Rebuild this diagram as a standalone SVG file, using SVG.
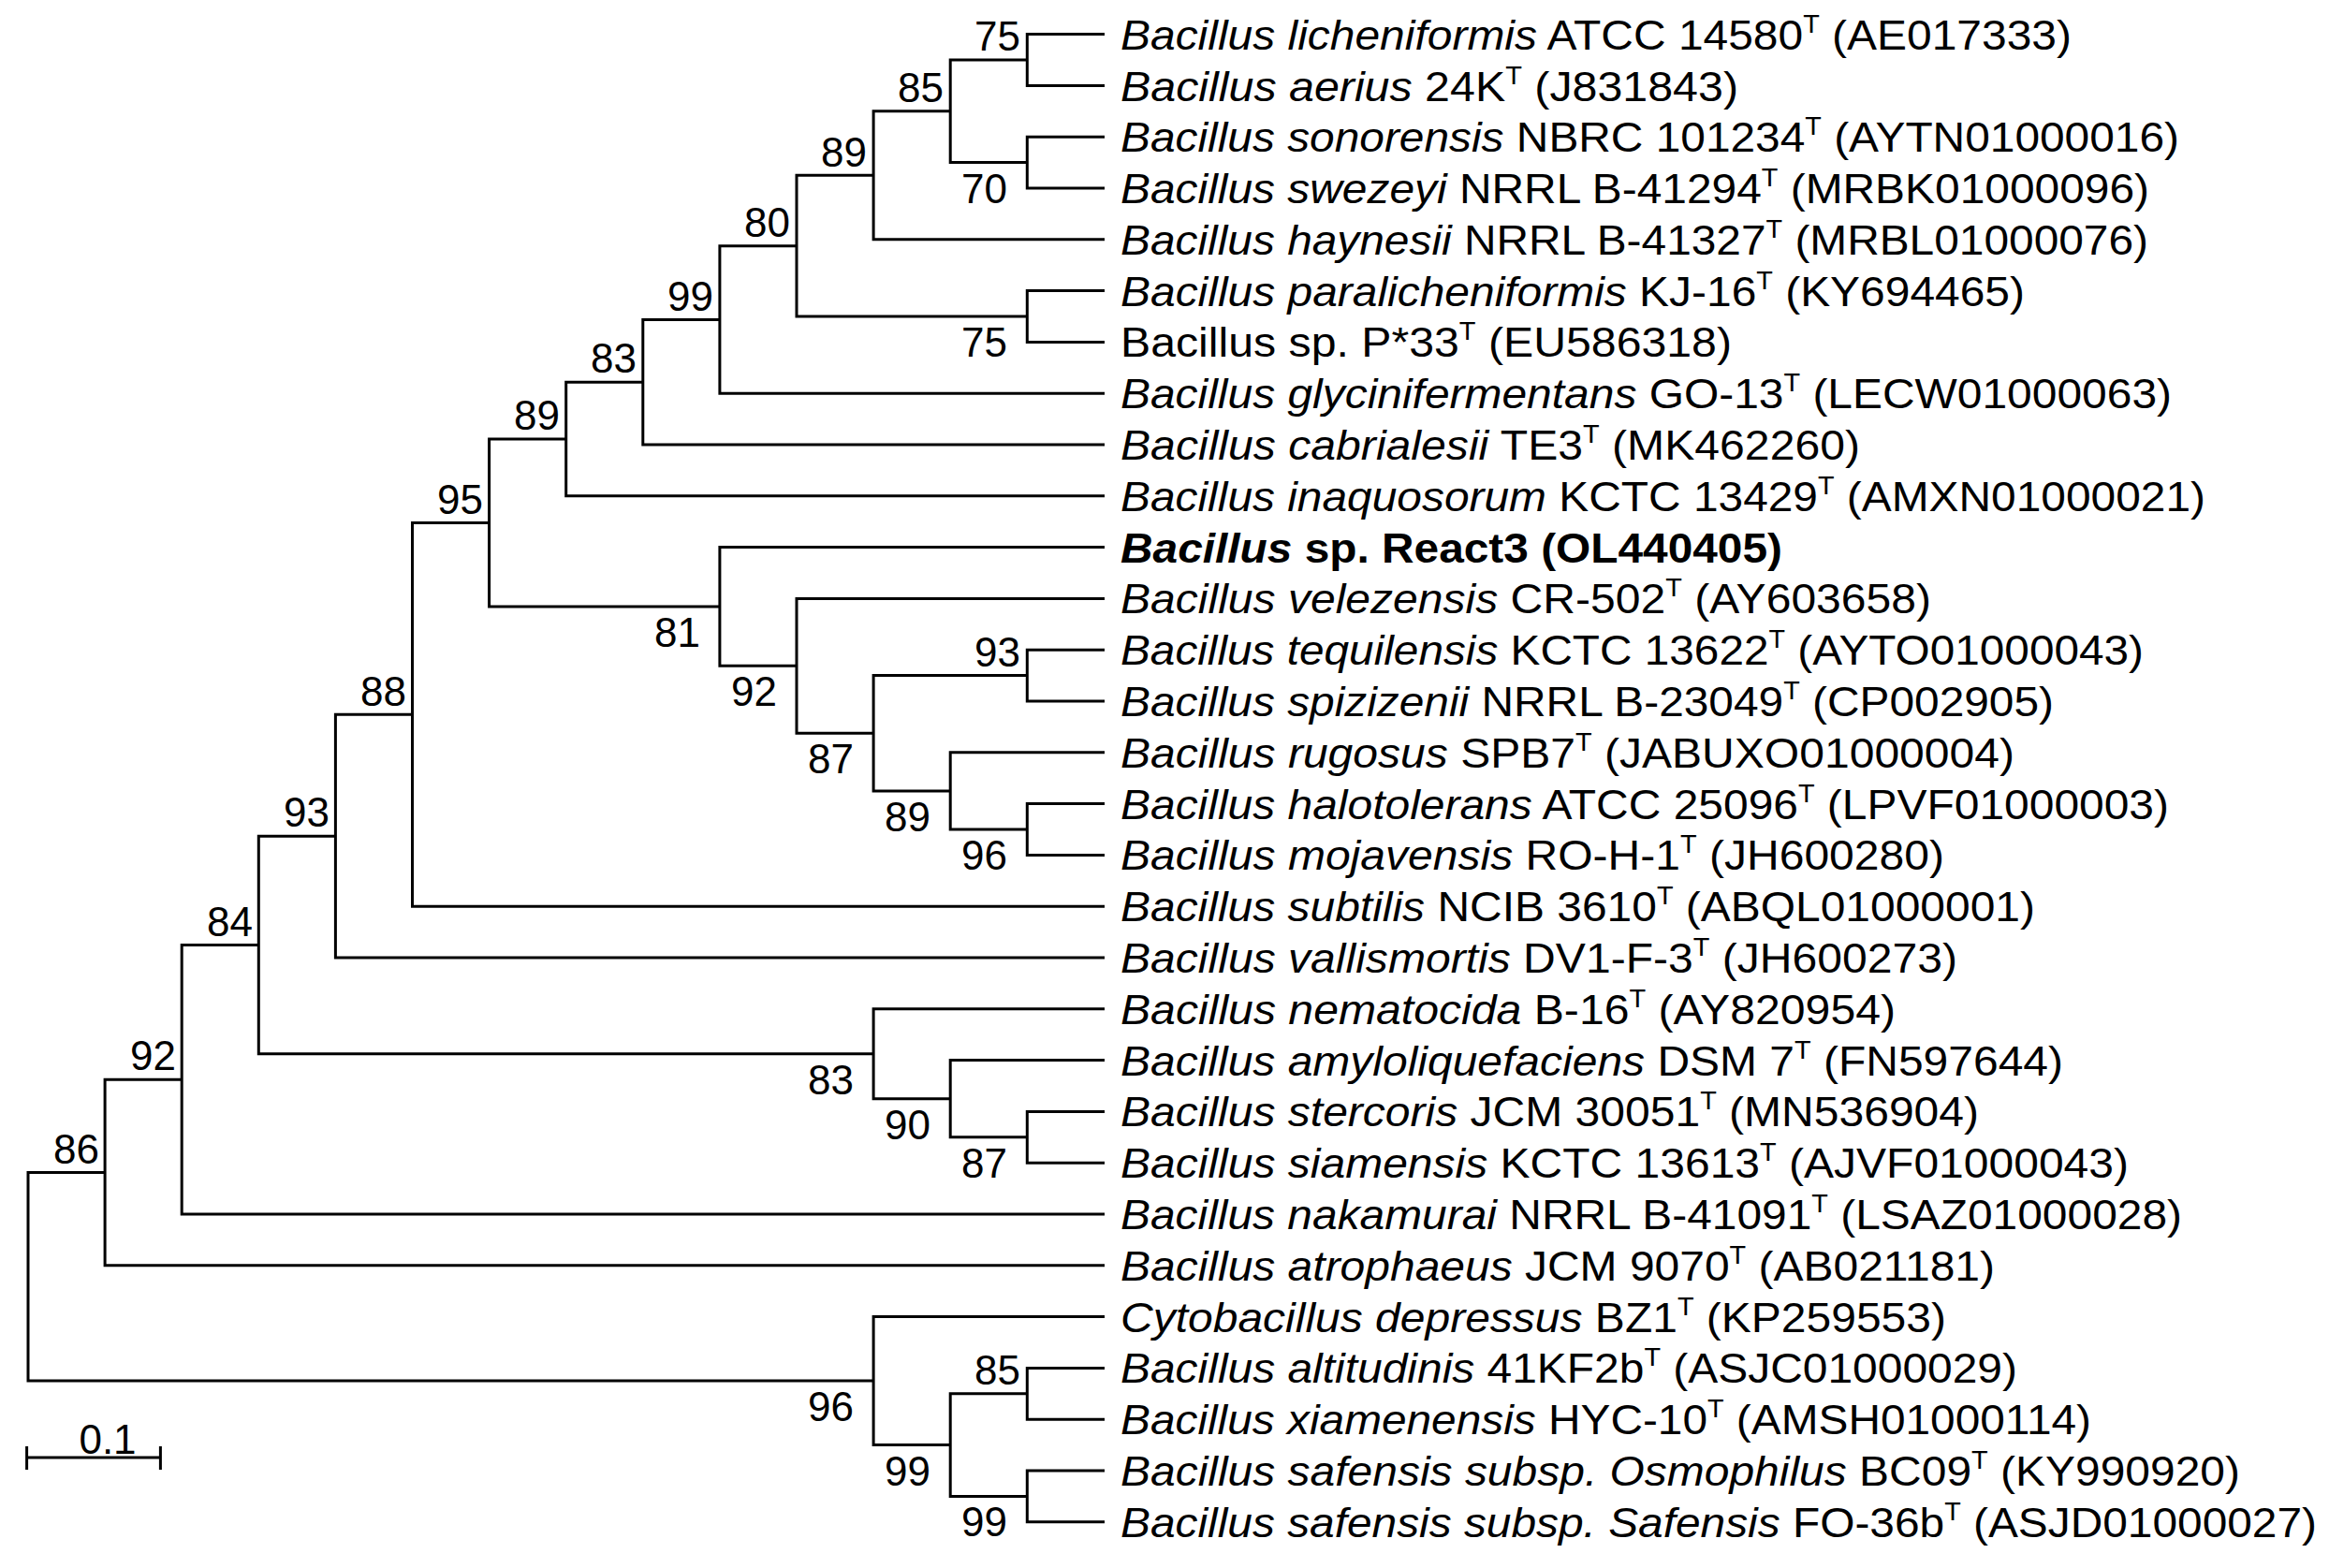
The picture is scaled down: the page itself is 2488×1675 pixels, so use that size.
<svg xmlns="http://www.w3.org/2000/svg" width="2488" height="1675" viewBox="0 0 2488 1675">
<style>
.br{fill:none;stroke:#000;stroke-width:3}
text{font-family:"Liberation Sans",Arial,sans-serif;fill:#000}
.tx{font-size:45px}
.bs{font-size:44px;text-anchor:end}
.i{font-style:italic}
.s{font-size:27px}
</style>
<rect width="2488" height="1675" fill="#fff"/>
<g id="connectors">
<path class="br" d="M112.1,1252.5H30V1475.1H933.1"/>
<path class="br" d="M194.2,1153.2H112.1V1351.8H1180"/>
<path class="br" d="M276.3,1009.5H194.2V1297H1180"/>
<path class="br" d="M358.4,893.2H276.3V1125.75H933.1"/>
<path class="br" d="M440.5,763.3H358.4V1023H1180"/>
<path class="br" d="M522.6,558.5H440.5V968.2H1180"/>
<path class="br" d="M604.7,469H522.6V648H768.9"/>
<path class="br" d="M686.8,408.2H604.7V529.8H1180"/>
<path class="br" d="M768.9,341.4H686.8V475H1180"/>
<path class="br" d="M851,262.65H768.9V420.2H1180"/>
<path class="br" d="M933.1,187.3H851V338H1097.3"/>
<path class="br" d="M1015.2,118.8H933.1V255.8H1180"/>
<path class="br" d="M1097.3,64H1015.2V173.6H1097.3"/>
<path class="br" d="M1180,36.6H1097.3V91.4H1180"/>
<path class="br" d="M1180,146.2H1097.3V201H1180"/>
<path class="br" d="M1180,310.6H1097.3V365.4H1180"/>
<path class="br" d="M1180,584.6H768.9V711.3H851"/>
<path class="br" d="M1180,639.4H851V783.25H933.1"/>
<path class="br" d="M1097.3,721.6H933.1V844.9H1015.2"/>
<path class="br" d="M1180,694.2H1097.3V749H1180"/>
<path class="br" d="M1180,803.8H1015.2V886H1097.3"/>
<path class="br" d="M1180,858.6H1097.3V913.4H1180"/>
<path class="br" d="M1180,1077.8H933.1V1173.7H1015.2"/>
<path class="br" d="M1180,1132.6H1015.2V1214.8H1097.3"/>
<path class="br" d="M1180,1187.4H1097.3V1242.2H1180"/>
<path class="br" d="M1180,1406.6H933.1V1543.6H1015.2"/>
<path class="br" d="M1097.3,1488.8H1015.2V1598.4H1097.3"/>
<path class="br" d="M1180,1461.4H1097.3V1516.2H1180"/>
<path class="br" d="M1180,1571H1097.3V1625.8H1180"/>
</g>
<g id="bootstrap">
<text class="bs" x="1090" y="54">75</text>
<text class="bs" x="1008" y="109">85</text>
<text class="bs" x="1076" y="217">70</text>
<text class="bs" x="926" y="178">89</text>
<text class="bs" x="844" y="253">80</text>
<text class="bs" x="1076" y="381">75</text>
<text class="bs" x="762" y="332">99</text>
<text class="bs" x="680" y="398">83</text>
<text class="bs" x="598" y="459">89</text>
<text class="bs" x="516" y="549">95</text>
<text class="bs" x="748" y="691">81</text>
<text class="bs" x="830" y="754">92</text>
<text class="bs" x="1090" y="712">93</text>
<text class="bs" x="912" y="826">87</text>
<text class="bs" x="994" y="888">89</text>
<text class="bs" x="1076" y="929">96</text>
<text class="bs" x="434" y="754">88</text>
<text class="bs" x="352" y="883">93</text>
<text class="bs" x="270" y="1000">84</text>
<text class="bs" x="912" y="1169">83</text>
<text class="bs" x="994" y="1217">90</text>
<text class="bs" x="1076" y="1258">87</text>
<text class="bs" x="188" y="1143">92</text>
<text class="bs" x="106" y="1243">86</text>
<text class="bs" x="912" y="1518">96</text>
<text class="bs" x="1090" y="1479">85</text>
<text class="bs" x="994" y="1587">99</text>
<text class="bs" x="1076" y="1641">99</text>
</g>
<g id="scale">
<path class="br" d="M28.6,1557H171.4M28.6,1545V1570M171.4,1545V1570"/>
<text class="bs" x="146" y="1553" style="text-anchor:middle" transform="translate(-31,0)">0.1</text>
</g>
<g id="taxa" class="tx">
<text x="1197" y="53" textLength="1016" lengthAdjust="spacingAndGlyphs"><tspan class="i">Bacillus licheniformis</tspan> ATCC 14580<tspan class="s" dy="-18">T</tspan><tspan dy="18"> (AE017333)</tspan></text>
<text x="1197" y="108" textLength="660" lengthAdjust="spacingAndGlyphs"><tspan class="i">Bacillus aerius</tspan> 24K<tspan class="s" dy="-18">T</tspan><tspan dy="18"> (J831843)</tspan></text>
<text x="1197" y="162" textLength="1131" lengthAdjust="spacingAndGlyphs"><tspan class="i">Bacillus sonorensis</tspan> NBRC 101234<tspan class="s" dy="-18">T</tspan><tspan dy="18"> (AYTN01000016)</tspan></text>
<text x="1197" y="217" textLength="1099" lengthAdjust="spacingAndGlyphs"><tspan class="i">Bacillus swezeyi</tspan> NRRL B-41294<tspan class="s" dy="-18">T</tspan><tspan dy="18"> (MRBK01000096)</tspan></text>
<text x="1197" y="272" textLength="1098" lengthAdjust="spacingAndGlyphs"><tspan class="i">Bacillus haynesii</tspan> NRRL B-41327<tspan class="s" dy="-18">T</tspan><tspan dy="18"> (MRBL01000076)</tspan></text>
<text x="1197" y="327" textLength="966" lengthAdjust="spacingAndGlyphs"><tspan class="i">Bacillus paralicheniformis</tspan> KJ-16<tspan class="s" dy="-18">T</tspan><tspan dy="18"> (KY694465)</tspan></text>
<text x="1197" y="381" textLength="653" lengthAdjust="spacingAndGlyphs">Bacillus sp. P*33<tspan class="s" dy="-18">T</tspan><tspan dy="18"> (EU586318)</tspan></text>
<text x="1197" y="436" textLength="1123" lengthAdjust="spacingAndGlyphs"><tspan class="i">Bacillus glycinifermentans</tspan> GO-13<tspan class="s" dy="-18">T</tspan><tspan dy="18"> (LECW01000063)</tspan></text>
<text x="1197" y="491" textLength="790" lengthAdjust="spacingAndGlyphs"><tspan class="i">Bacillus cabrialesii</tspan> TE3<tspan class="s" dy="-18">T</tspan><tspan dy="18"> (MK462260)</tspan></text>
<text x="1197" y="546" textLength="1159" lengthAdjust="spacingAndGlyphs"><tspan class="i">Bacillus inaquosorum</tspan> KCTC 13429<tspan class="s" dy="-18">T</tspan><tspan dy="18"> (AMXN01000021)</tspan></text>
<text x="1197" y="601" textLength="707" lengthAdjust="spacingAndGlyphs" font-weight="bold"><tspan class="i">Bacillus</tspan> sp. React3 (OL440405)</text>
<text x="1197" y="655" textLength="866" lengthAdjust="spacingAndGlyphs"><tspan class="i">Bacillus velezensis</tspan> CR-502<tspan class="s" dy="-18">T</tspan><tspan dy="18"> (AY603658)</tspan></text>
<text x="1197" y="710" textLength="1093" lengthAdjust="spacingAndGlyphs"><tspan class="i">Bacillus tequilensis</tspan> KCTC 13622<tspan class="s" dy="-18">T</tspan><tspan dy="18"> (AYTO01000043)</tspan></text>
<text x="1197" y="765" textLength="997" lengthAdjust="spacingAndGlyphs"><tspan class="i">Bacillus spizizenii</tspan> NRRL B-23049<tspan class="s" dy="-18">T</tspan><tspan dy="18"> (CP002905)</tspan></text>
<text x="1197" y="820" textLength="955" lengthAdjust="spacingAndGlyphs"><tspan class="i">Bacillus rugosus</tspan> SPB7<tspan class="s" dy="-18">T</tspan><tspan dy="18"> (JABUXO01000004)</tspan></text>
<text x="1197" y="875" textLength="1120" lengthAdjust="spacingAndGlyphs"><tspan class="i">Bacillus halotolerans</tspan> ATCC 25096<tspan class="s" dy="-18">T</tspan><tspan dy="18"> (LPVF01000003)</tspan></text>
<text x="1197" y="929" textLength="880" lengthAdjust="spacingAndGlyphs"><tspan class="i">Bacillus mojavensis</tspan> RO-H-1<tspan class="s" dy="-18">T</tspan><tspan dy="18"> (JH600280)</tspan></text>
<text x="1197" y="984" textLength="977" lengthAdjust="spacingAndGlyphs"><tspan class="i">Bacillus subtilis</tspan> NCIB 3610<tspan class="s" dy="-18">T</tspan><tspan dy="18"> (ABQL01000001)</tspan></text>
<text x="1197" y="1039" textLength="894" lengthAdjust="spacingAndGlyphs"><tspan class="i">Bacillus vallismortis</tspan> DV1-F-3<tspan class="s" dy="-18">T</tspan><tspan dy="18"> (JH600273)</tspan></text>
<text x="1197" y="1094" textLength="828" lengthAdjust="spacingAndGlyphs"><tspan class="i">Bacillus nematocida</tspan> B-16<tspan class="s" dy="-18">T</tspan><tspan dy="18"> (AY820954)</tspan></text>
<text x="1197" y="1149" textLength="1007" lengthAdjust="spacingAndGlyphs"><tspan class="i">Bacillus amyloliquefaciens</tspan> DSM 7<tspan class="s" dy="-18">T</tspan><tspan dy="18"> (FN597644)</tspan></text>
<text x="1197" y="1203" textLength="917" lengthAdjust="spacingAndGlyphs"><tspan class="i">Bacillus stercoris</tspan> JCM 30051<tspan class="s" dy="-18">T</tspan><tspan dy="18"> (MN536904)</tspan></text>
<text x="1197" y="1258" textLength="1077" lengthAdjust="spacingAndGlyphs"><tspan class="i">Bacillus siamensis</tspan> KCTC 13613<tspan class="s" dy="-18">T</tspan><tspan dy="18"> (AJVF01000043)</tspan></text>
<text x="1197" y="1313" textLength="1134" lengthAdjust="spacingAndGlyphs"><tspan class="i">Bacillus nakamurai</tspan> NRRL B-41091<tspan class="s" dy="-18">T</tspan><tspan dy="18"> (LSAZ01000028)</tspan></text>
<text x="1197" y="1368" textLength="934" lengthAdjust="spacingAndGlyphs"><tspan class="i">Bacillus atrophaeus</tspan> JCM 9070<tspan class="s" dy="-18">T</tspan><tspan dy="18"> (AB021181)</tspan></text>
<text x="1197" y="1423" textLength="882" lengthAdjust="spacingAndGlyphs"><tspan class="i">Cytobacillus depressus</tspan> BZ1<tspan class="s" dy="-18">T</tspan><tspan dy="18"> (KP259553)</tspan></text>
<text x="1197" y="1477" textLength="958" lengthAdjust="spacingAndGlyphs"><tspan class="i">Bacillus altitudinis</tspan> 41KF2b<tspan class="s" dy="-18">T</tspan><tspan dy="18"> (ASJC01000029)</tspan></text>
<text x="1197" y="1532" textLength="1037" lengthAdjust="spacingAndGlyphs"><tspan class="i">Bacillus xiamenensis</tspan> HYC-10<tspan class="s" dy="-18">T</tspan><tspan dy="18"> (AMSH01000114)</tspan></text>
<text x="1197" y="1587" textLength="1196" lengthAdjust="spacingAndGlyphs"><tspan class="i">Bacillus safensis subsp. Osmophilus</tspan> BC09<tspan class="s" dy="-18">T</tspan><tspan dy="18"> (KY990920)</tspan></text>
<text x="1197" y="1642" textLength="1278" lengthAdjust="spacingAndGlyphs"><tspan class="i">Bacillus safensis subsp. Safensis</tspan> FO-36b<tspan class="s" dy="-18">T</tspan><tspan dy="18"> (ASJD01000027)</tspan></text>
</g>
</svg>
